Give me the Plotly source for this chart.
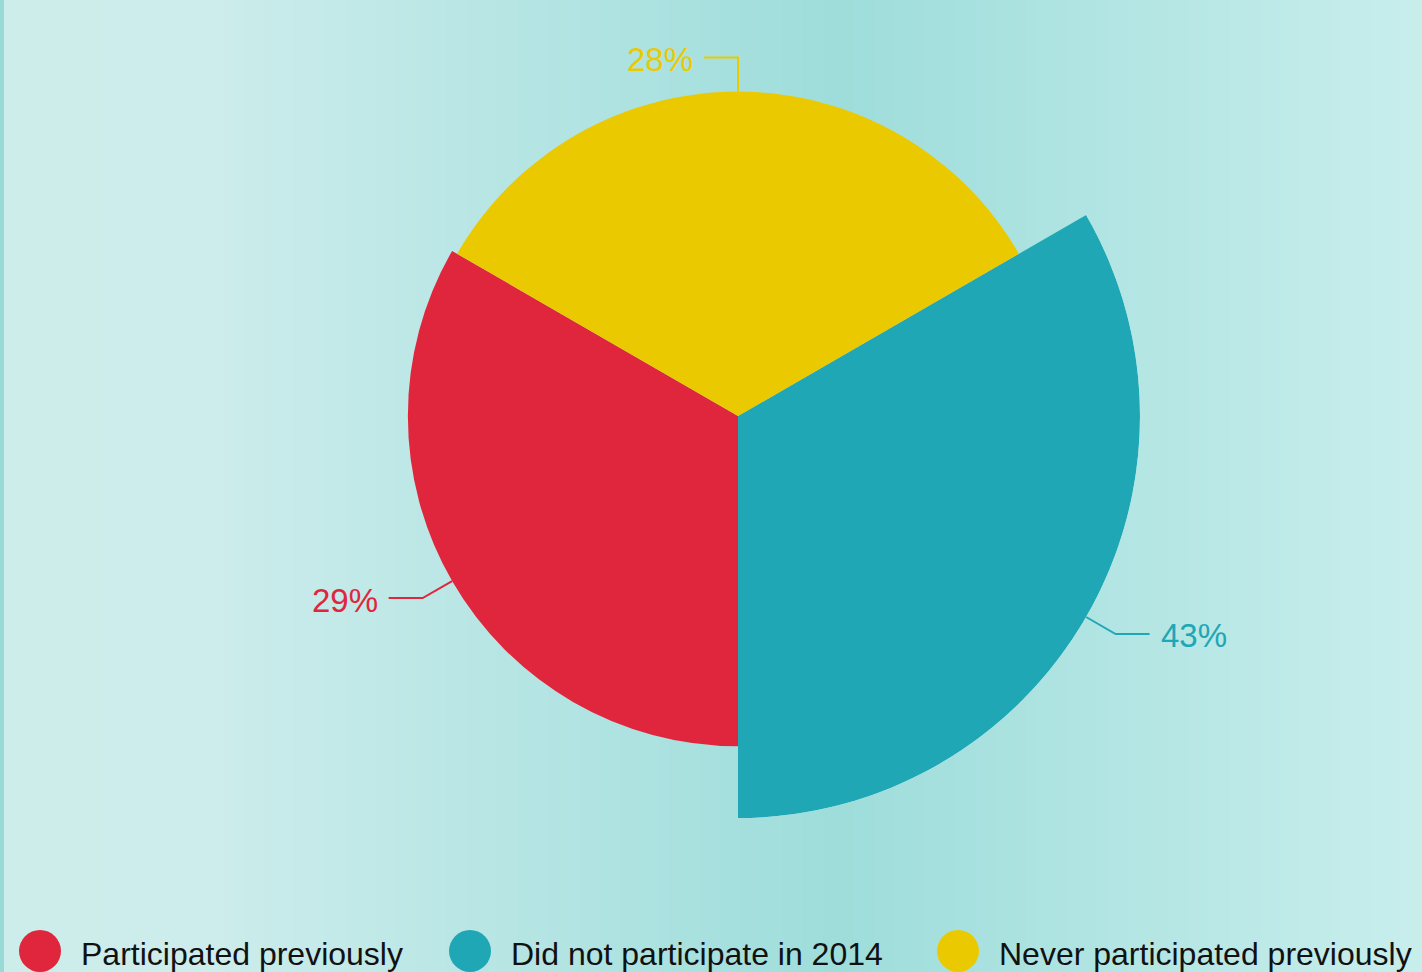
import numpy as np
import plotly.graph_objects as go

# ---- data ----
categories = ["Participated previously", "Did not participate in 2014", "Never participated previously"]
values = [29, 43, 28]
labels = ["29%", "43%", "28%"]
colors = ["#E0263D", "#20A7B5", "#EBC900"]
theta_centers = [240, 120, 0]
slice_width = 120

W, H = 1422, 972
CX, CY = 738, 416          # pixel centre of the pie
RMAX_PX = 402              # pixel radius of the largest slice
radii = np.sqrt(np.array(values, dtype=float))
rmax = radii.max()

FONT = "Liberation Sans Narrow, Liberation Sans, Arial, sans-serif"

def px(x, y):
    return x / W, 1 - y / H

fig = go.Figure()
fig.add_trace(go.Barpolar(
    r=radii, theta=theta_centers, width=[slice_width] * 3,
    marker=dict(color=colors, line=dict(width=0)),
    showlegend=False, hoverinfo="skip",
))

# ---- background gradient ----
stops = [(0.0, (205, 237, 235)), (0.14, (205, 237, 236)), (0.59, (158, 221, 219)), (1.0, (200, 238, 236))]
def grad(t):
    for (t0, c0), (t1, c1) in zip(stops[:-1], stops[1:]):
        if t0 <= t <= t1:
            f = (t - t0) / (t1 - t0) if t1 > t0 else 0
            return tuple(int(round(a + (b - a) * f)) for a, b in zip(c0, c1))
    return stops[-1][1]

shapes = []
N = 140
for i in range(N):
    x0, x1 = i / N, (i + 1) / N
    c = grad((x0 + x1) / 2)
    shapes.append(dict(type="rect", xref="paper", yref="paper", x0=x0, x1=x1 + 0.001, y0=0, y1=1,
                       fillcolor=f"rgb{c}", line=dict(width=0), layer="below"))
shapes.append(dict(type="rect", xref="paper", yref="paper", x0=0, x1=4 / W, y0=0, y1=1,
                   fillcolor="#97DAD6", line=dict(width=0), layer="below"))

# ---- leader lines and labels ----
annotations = []
scale = RMAX_PX / rmax
for r, th, lab, col in zip(radii, theta_centers, labels, colors):
    a = np.deg2rad(th)
    ux, uy = np.sin(a), -np.cos(a)
    rp = r * scale
    p0 = (CX + ux * rp, CY + uy * rp)
    p1 = (CX + ux * (rp + 34), CY + uy * (rp + 34))
    side = 1 if ux > 0.1 else -1
    p2 = (p1[0] + side * 34, p1[1])
    pts = [px(*p) for p in (p0, p1, p2)]
    path = "M {} {} L {} {} L {} {}".format(*[v for p in pts for v in p])
    shapes.append(dict(type="path", xref="paper", yref="paper", path=path,
                       line=dict(color=col, width=2)))
    tx, ty = px(p2[0] + side * 9, p2[1] + 2)
    annotations.append(dict(x=tx, y=ty, xref="paper", yref="paper", text=lab, showarrow=False,
                            xanchor="left" if side > 0 else "right", yanchor="middle",
                            font=dict(family=FONT, size=33, color=col)))

# ---- custom legend ----
legend_x = [40, 470, 958]
legend_y = 951
for lx, name, col in zip(legend_x, categories, colors):
    x0, y0 = px(lx - 21, legend_y - 21)
    x1, y1 = px(lx + 21, legend_y + 21)
    shapes.append(dict(type="circle", xref="paper", yref="paper", x0=x0, x1=x1, y0=y1, y1=y0,
                       fillcolor=col, line=dict(width=0)))
    tx, ty = px(lx + 39, legend_y + 3)
    annotations.append(dict(x=tx, y=ty, xref="paper", yref="paper", text=name, showarrow=False,
                            xanchor="left", yanchor="middle",
                            font=dict(family=FONT, size=32, color="#111111")))

dx0, dy1 = px(CX - RMAX_PX, CY - RMAX_PX)
dx1, dy0 = px(CX + RMAX_PX, CY + RMAX_PX)

fig.update_layout(
    width=W, height=H,
    margin=dict(l=0, r=0, t=0, b=0),
    paper_bgcolor="#C0E8E6",
    plot_bgcolor="rgba(0,0,0,0)",
    showlegend=False,
    shapes=shapes,
    annotations=annotations,
    polar=dict(
        domain=dict(x=[dx0, dx1], y=[dy0, dy1]),
        bgcolor="rgba(0,0,0,0)",
        radialaxis=dict(range=[0, rmax], visible=False, showgrid=False),
        angularaxis=dict(rotation=90, direction="clockwise", visible=False, showgrid=False),
        bargap=0,
    ),
)

fig.write_html("out.html", config={"displayModeBar": False},
               post_script="document.body.style.margin='0';document.body.style.overflow='hidden';")
